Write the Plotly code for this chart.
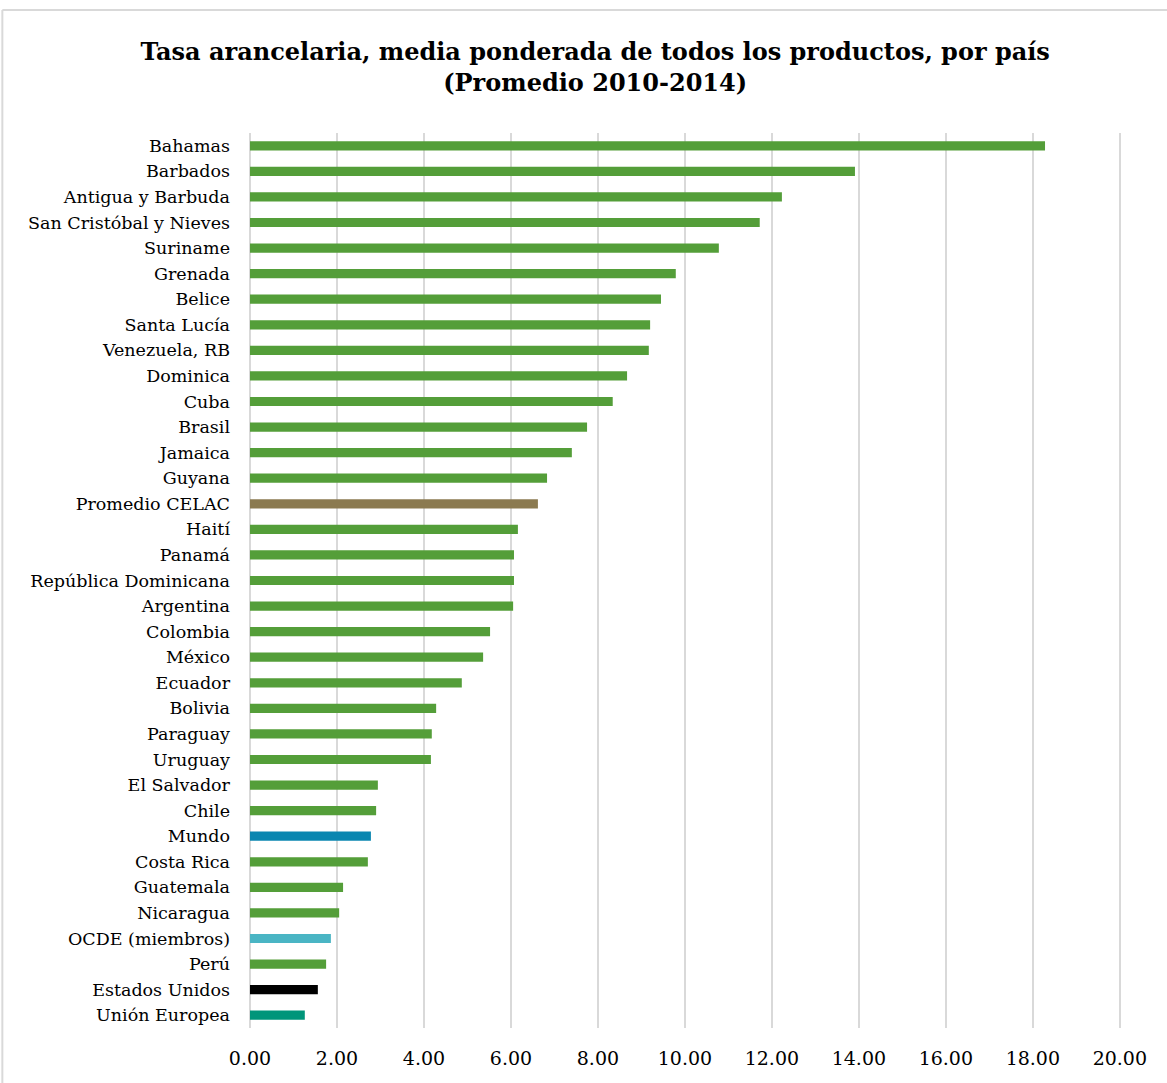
import plotly.graph_objects as go

paises = ["Bahamas", "Barbados", "Antigua y Barbuda", "San Cristóbal y Nieves", "Suriname",
          "Grenada", "Belice", "Santa Lucía", "Venezuela, RB", "Dominica", "Cuba", "Brasil",
          "Jamaica", "Guyana", "Promedio CELAC", "Haití", "Panamá", "República Dominicana",
          "Argentina", "Colombia", "México", "Ecuador", "Bolivia", "Paraguay", "Uruguay",
          "El Salvador", "Chile", "Mundo", "Costa Rica", "Guatemala", "Nicaragua",
          "OCDE (miembros)", "Perú", "Estados Unidos", "Unión Europea"]
tasas = [18.28, 13.91, 12.23, 11.72, 10.78, 9.79, 9.45, 9.20, 9.17, 8.67, 8.34, 7.75,
         7.40, 6.83, 6.62, 6.16, 6.07, 6.07, 6.05, 5.52, 5.36, 4.87, 4.28, 4.18, 4.16,
         2.94, 2.90, 2.78, 2.71, 2.14, 2.05, 1.86, 1.75, 1.56, 1.26]
colores_especiales = {"Promedio CELAC": "#8B7A50", "Mundo": "#0A86B0",
                      "OCDE (miembros)": "#4AB5C4", "Estados Unidos": "#000000",
                      "Unión Europea": "#00957A"}
color_base = "#549E39"
tick_vals = [0, 2, 4, 6, 8, 10, 12, 14, 16, 18, 20]

colores = [colores_especiales.get(p, color_base) for p in paises]

fig = go.Figure(go.Bar(
    x=tasas, y=paises, orientation="h",
    marker=dict(color=colores, line=dict(width=0)),
    hovertemplate="%{y}: %{x:.2f}<extra></extra>",
))

fig.update_layout(
    width=1167, height=1083,
    paper_bgcolor="white", plot_bgcolor="white",
    margin=dict(l=250, r=45, t=133, b=55),
    bargap=0.64,
    showlegend=False,
    font=dict(family="DejaVu Serif", color="#000000"),
    title=dict(
        text="<b>Tasa arancelaria, media ponderada de todos los productos, por país<br>(Promedio 2010-2014)</b>",
        x=0.51, xref="container", xanchor="center", y=0.9445, yref="container", yanchor="middle",
        font=dict(family="DejaVu Serif", size=24, color="#000000"),
    ),
    xaxis=dict(
        range=[0, 20.05], tickvals=tick_vals, tickformat=".2f",
        showgrid=True, gridcolor="#d9d9d9", gridwidth=2,
        zeroline=True, zerolinecolor="#d9d9d9", zerolinewidth=2,
        showline=False, ticks="", ticklabelstandoff=17,
        tickfont=dict(size=19, family="DejaVu Serif"),
    ),
    yaxis=dict(
        autorange="reversed", showgrid=False, showline=False, ticks="",
        tickfont=dict(size=17.5, family="DejaVu Serif"), ticklabelstandoff=19,
    ),
    shapes=[
        dict(type="line", xref="paper", yref="paper", x0=-0.284, x1=1.06, y0=1.1374, y1=1.1374,
             line=dict(color="#d9d9d9", width=2)),
        dict(type="line", xref="paper", yref="paper", x0=-0.284, x1=-0.284, y0=1.1374, y1=-0.07,
             line=dict(color="#d9d9d9", width=2)),
    ],
)

fig.write_html("out.html", config={"displayModeBar": False},
               post_script="document.body.style.margin='0';")
